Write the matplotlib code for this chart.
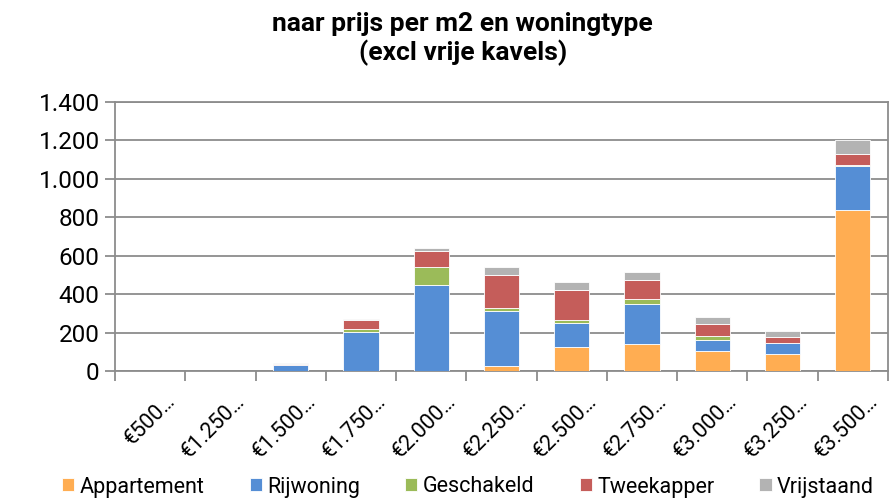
import matplotlib
matplotlib.use("Agg")
import matplotlib.pyplot as plt
import matplotlib.transforms as mtransforms
import numpy as np

plt.rcParams['font.family'] = ['Roboto', 'DejaVu Sans']

categories = ["€500…", "€1.250…", "€1.500…", "€1.750…", "€2.000…", "€2.250…",
              "€2.500…", "€2.750…", "€3.000…", "€3.250…", "€3.500…"]
series_names = ["Appartement", "Rijwoning", "Geschakeld", "Tweekapper", "Vrijstaand"]
appartement = [0, 0, 0, 0, 0, 28, 125, 142, 104, 88, 840]
rijwoning   = [0, 0, 33, 204, 450, 285, 126, 208, 59, 56, 229]
geschakeld  = [0, 0, 0, 14, 89, 14, 14, 24, 19, 2, 3]
tweekapper  = [0, 0, 6, 50, 86, 172, 156, 100, 64, 29, 57]
vrijstaand  = [0, 0, 2, 4, 16, 41, 41, 40, 36, 31, 75]
yticks = [0, 200, 400, 600, 800, 1000, 1200, 1400]
ytick_labels = ["0", "200", "400", "600", "800", "1.000", "1.200", "1.400"]

colors = ["#FFAD52", "#558ED5", "#9BBB59", "#C55D5A", "#B3B3B3"]
series = [appartement, rijwoning, geschakeld, tweekapper, vrijstaand]

fig = plt.figure(figsize=(8.9, 5.0), dpi=100)
ax = fig.add_axes([115/890, (500-371)/500, (888-115)/890, (371-102)/500])

x = np.arange(len(categories))
bottom = np.zeros(len(categories))
handles = []
for name, vals, c in zip(series_names, series, colors):
    v = np.array(vals, dtype=float)
    b = ax.bar(x, v, width=0.5, bottom=bottom, color=c, edgecolor='white',
               linewidth=0.6, label=name, zorder=3)
    handles.append(b)
    bottom += v

ax.set_xlim(-0.5, len(categories) - 0.5)
ax.set_ylim(0, 1400)
ax.set_yticks(yticks)
ax.set_yticklabels(ytick_labels, fontsize=17.5, color='#000000')
ax.yaxis.grid(True, color='#8C8C8C', linewidth=1.3, zorder=0)
ax.set_axisbelow(True)

# x ticks at category boundaries, labels at centers
ax.set_xticks(np.arange(-0.5, len(categories) + 0.5, 1.0))
ax.set_xticklabels([])
ax.set_xticks(x, minor=True)
ax.set_xticklabels(categories, minor=True, rotation=45, ha='right', va='center',
                   rotation_mode='anchor', fontsize=15.5)
ax.tick_params(axis='x', which='minor', length=0, pad=0)
ax.tick_params(axis='x', which='major', length=7, width=1.3, color='#8C8C8C', direction='out')
ax.tick_params(axis='y', length=7, width=1.3, color='#8C8C8C', direction='out', pad=4)

offset = mtransforms.ScaledTranslation(22/100, -27/100, fig.dpi_scale_trans)
for lbl in ax.get_xticklabels(minor=True):
    lbl.set_transform(lbl.get_transform() + offset)

for s in ['left', 'right', 'top', 'bottom']:
    ax.spines[s].set_color('#8C8C8C')
    ax.spines[s].set_linewidth(1.3)

fig.text(0.52, 0.922, "naar prijs per m2 en woningtype\n(excl vrije kavels)",
         ha='center', va='center', fontsize=19, fontweight='bold', linespacing=1.2)

leg = fig.legend(handles=handles, labels=series_names, loc='center',
                 bbox_to_anchor=(0.526, 0.026), ncol=5, frameon=False, fontsize=15.5,
                 handlelength=0.56, handleheight=0.56, handletextpad=0.25,
                 columnspacing=2.1, borderaxespad=0, borderpad=0)

fig.savefig("out.png", dpi=100)
